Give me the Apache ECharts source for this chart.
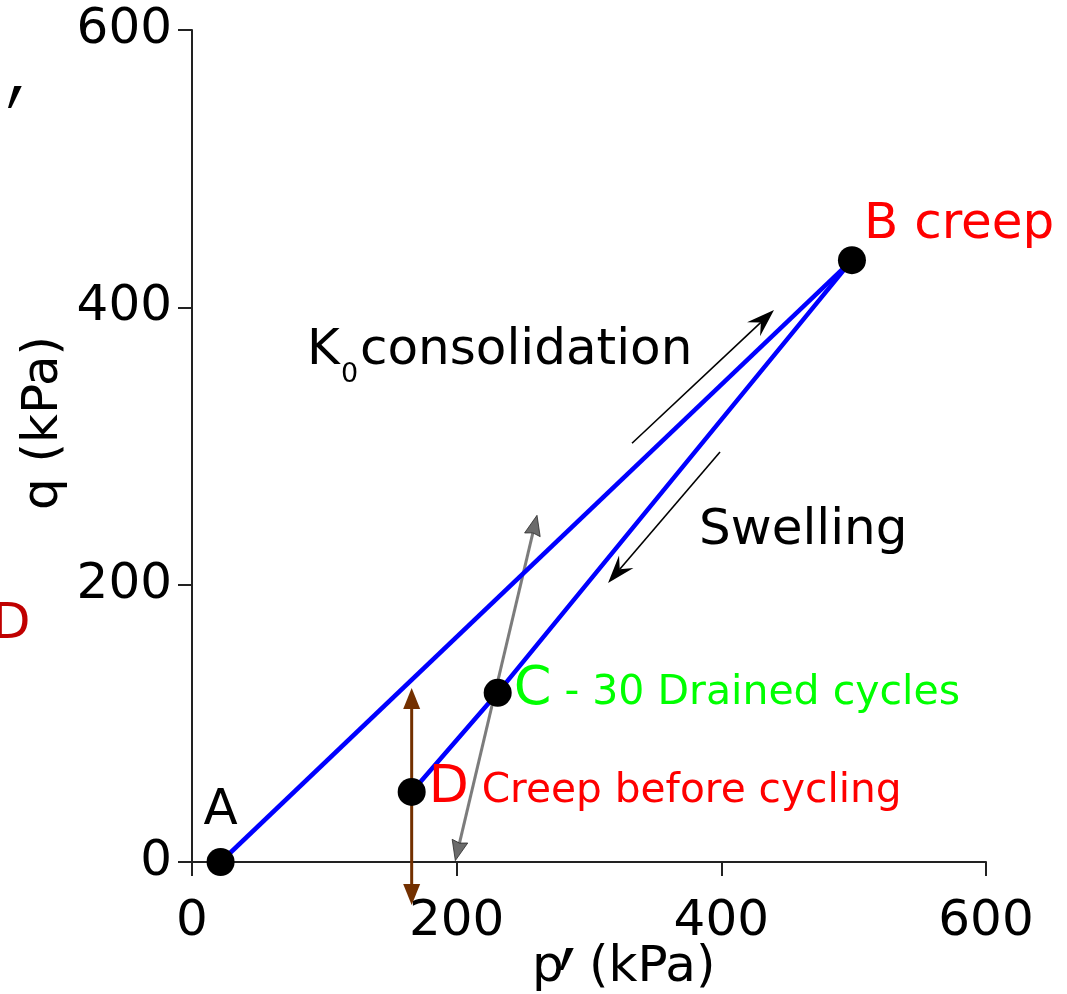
<!DOCTYPE html>
<html>
<head>
<meta charset="utf-8">
<title>Stress path p′–q</title>
<script src="https://cdn.jsdelivr.net/npm/echarts@6/dist/echarts.min.js"></script>
<style>
  html, body { margin: 0; padding: 0; background: #fff; }
  #chart { width: 1067px; height: 994px; }
</style>
</head>
<body>
<div id="chart"></div>
<script>
// Key states of the stress path (p′, q in kPa)
const pointNames = ['A', 'B', 'C', 'D'];
const pointP = [21.6, 498.7, 231, 166];
const pointQ = [0, 434, 122, 50.5];

// K0 consolidation path A -> B
const consolidationP = [21.6, 498.7];
const consolidationQ = [0, 434];

// Swelling path B -> C -> D
const swellingP = [498.7, 231, 166];
const swellingQ = [434, 122, 50.5];

// Arrows: [p start, q start, p end, q end]
const k0Arrow = [[332.5, 302, 439.8, 398]];
const swellArrow = [[399, 295.7, 314.4, 201.2]];
const cyclicArrow = [[199, 1, 260.7, 250]];
const creepArrow = [[166, 125.5, 166, -31]];

// Axis ticks
const axisMin = 0, axisMax = 600, axisStep = 200;

const FONT = 'DejaVu Sans';

function arrowSeries(name, rows, cfg) {
  return {
    name: name,
    type: 'custom',
    coordinateSystem: 'cartesian2d',
    silent: true,
    clip: false,
    z: cfg.z,
    encode: { x: [0, 2], y: [1, 3] },
    data: rows,
    renderItem: function (params, api) {
      const s = api.coord([api.value(0), api.value(1)]);
      const e = api.coord([api.value(2), api.value(3)]);
      const dx = e[0] - s[0], dy = e[1] - s[1];
      const len = Math.hypot(dx, dy);
      const ux = dx / len, uy = dy / len;
      const nx = -uy, ny = ux;
      const L = cfg.headLength, W = cfg.headWidth / 2, N = cfg.notch;
      function head(tip, d) {
        const bx = tip[0] - d[0] * L, by = tip[1] - d[1] * L;
        return {
          type: 'polygon',
          shape: { points: [
            [tip[0], tip[1]],
            [bx + nx * W, by + ny * W],
            [tip[0] - d[0] * (L - N), tip[1] - d[1] * (L - N)],
            [bx - nx * W, by - ny * W]
          ] },
          style: { fill: cfg.headFill, stroke: cfg.headStroke, lineWidth: cfg.headStrokeWidth }
        };
      }
      const inset = L - N;
      const a = cfg.both ? [s[0] + ux * inset, s[1] + uy * inset] : s;
      const b = [e[0] - ux * inset, e[1] - uy * inset];
      const children = [{
        type: 'line',
        shape: { x1: a[0], y1: a[1], x2: b[0], y2: b[1] },
        style: { stroke: cfg.color, lineWidth: cfg.width }
      }, head(e, [ux, uy])];
      if (cfg.both) children.push(head(s, [-ux, -uy]));
      return { type: 'group', children: children };
    }
  };
}

const labelStyles = {
  A: { show: true, formatter: 'A', position: 'top', distance: 12,
       color: '#000', fontSize: 50, fontFamily: FONT },
  B: { show: true, formatter: 'B creep', position: 'right', distance: 0, offset: [-2, -35],
       color: '#ff0000', fontSize: 50, fontFamily: FONT },
  C: { show: true, formatter: '{big|C}{small| - 30 Drained cycles}', position: 'right',
       distance: 2, offset: [0, -3],
       rich: {
         big: { color: '#00ff00', fontSize: 54, fontFamily: FONT, verticalAlign: 'bottom' },
         small: { color: '#00ff00', fontSize: 41, fontFamily: FONT, verticalAlign: 'bottom', padding: [0, 0, 3, 0] }
       } },
  D: { show: true, formatter: '{big|D}{small| Creep before cycling}', position: 'right',
       distance: 3, offset: [0, -3],
       rich: {
         big: { color: '#ff0000', fontSize: 52, fontFamily: FONT, verticalAlign: 'bottom' },
         small: { color: '#ff0000', fontSize: 40.7, fontFamily: FONT, verticalAlign: 'bottom', padding: [0, 0, 3, 0] }
       } }
};

const axisCommon = {
  type: 'value',
  min: axisMin,
  max: axisMax,
  interval: axisStep,
  axisLine: { show: true, lineStyle: { color: '#222', width: 2 } },
  axisTick: { show: true, length: 14, lineStyle: { color: '#222', width: 2 } },
  splitLine: { show: false }
};

// Tall, thin prime mark used in the p′ titles
function primeMark(x, y) {
  return {
    type: 'text', x: x, y: y, scaleY: 1.6,
    style: { text: '′', fill: '#000', fontSize: 75, fontFamily: FONT, align: 'center', verticalAlign: 'middle' }
  };
}

const option = {
  animation: false,
  backgroundColor: '#fff',
  grid: { left: 192, right: 81, top: 30, bottom: 132 },
  xAxis: Object.assign({}, axisCommon, {
    axisLabel: { color: '#000', fontSize: 50, fontFamily: FONT, margin: 35 }
  }),
  yAxis: Object.assign({}, axisCommon, {
    axisLabel: { color: '#000', fontSize: 50, fontFamily: FONT, margin: 20 }
  }),
  series: [
    arrowSeries('cyclic', cyclicArrow, {
      z: 1, both: true, color: 'rgba(80,80,80,0.75)', width: 3,
      headLength: 20, headWidth: 16, notch: 2,
      headFill: 'rgba(70,70,70,0.8)', headStroke: 'rgba(40,40,40,0.8)', headStrokeWidth: 1
    }),
    arrowSeries('creep', creepArrow, {
      z: 1, both: true, color: '#733000', width: 3,
      headLength: 21, headWidth: 17, notch: 0,
      headFill: '#733000', headStroke: '#733000', headStrokeWidth: 0
    }),
    arrowSeries('k0 direction', k0Arrow, {
      z: 1, both: false, color: '#000', width: 1.6,
      headLength: 28, headWidth: 19, notch: 10,
      headFill: '#000', headStroke: '#000', headStrokeWidth: 0
    }),
    arrowSeries('swelling direction', swellArrow, {
      z: 1, both: false, color: '#000', width: 1.6,
      headLength: 28, headWidth: 19, notch: 10,
      headFill: '#000', headStroke: '#000', headStrokeWidth: 0
    }),
    {
      name: 'K0 consolidation',
      type: 'line',
      z: 3,
      symbol: 'none',
      lineStyle: { color: '#0000ff', width: 4.5, opacity: 1 },
      data: consolidationP.map((p, i) => [p, consolidationQ[i]])
    },
    {
      name: 'Swelling',
      type: 'line',
      z: 3,
      symbol: 'none',
      lineStyle: { color: '#0000ff', width: 4.5, opacity: 1 },
      data: swellingP.map((p, i) => [p, swellingQ[i]])
    },
    {
      name: 'States',
      type: 'scatter',
      z: 5,
      symbol: 'circle',
      symbolSize: 28,
      itemStyle: { color: '#000', opacity: 1 },
      data: pointNames.map((n, i) => ({ name: n, value: [pointP[i], pointQ[i]], label: labelStyles[n] }))
    }
  ],
  graphic: [
    { type: 'text', x: 307, y: 351, style: { text: 'K', fill: '#000', fontSize: 50, fontFamily: FONT, align: 'left', verticalAlign: 'middle' } },
    { type: 'text', x: 341, y: 375, style: { text: '0', fill: '#000', fontSize: 27, fontFamily: FONT, align: 'left', verticalAlign: 'middle' } },
    { type: 'text', x: 360, y: 351, style: { text: 'consolidation', fill: '#000', fontSize: 50, fontFamily: FONT, align: 'left', verticalAlign: 'middle' } },
    { type: 'text', x: 699, y: 531, style: { text: 'Swelling', fill: '#000', fontSize: 50, fontFamily: FONT, align: 'left', verticalAlign: 'middle' } },
    // horizontal axis title: p′ (kPa)
    { type: 'text', x: 532, y: 968, style: { text: 'p', fill: '#000', fontSize: 50, fontFamily: FONT, align: 'left', verticalAlign: 'middle' } },
    primeMark(567, 1004),
    { type: 'text', x: 589, y: 968, style: { text: '(kPa)', fill: '#000', fontSize: 50, fontFamily: FONT, align: 'left', verticalAlign: 'middle' } },
    // vertical axis title
    { type: 'text', x: 44, y: 423, rotation: Math.PI / 2, style: { text: 'q (kPa)', fill: '#000', fontSize: 50, fontFamily: FONT, align: 'center', verticalAlign: 'middle' } },
    // neighbouring panel fragments at the left edge
    primeMark(15, 142),
    { type: 'text', x: -8, y: 625, style: { text: 'D', fill: '#c00000', fontSize: 50, fontFamily: FONT, align: 'left', verticalAlign: 'middle' } }
  ]
};

const chart = echarts.init(document.getElementById('chart'), null, { renderer: 'canvas' });
chart.setOption(option);
</script>
</body>
</html>
